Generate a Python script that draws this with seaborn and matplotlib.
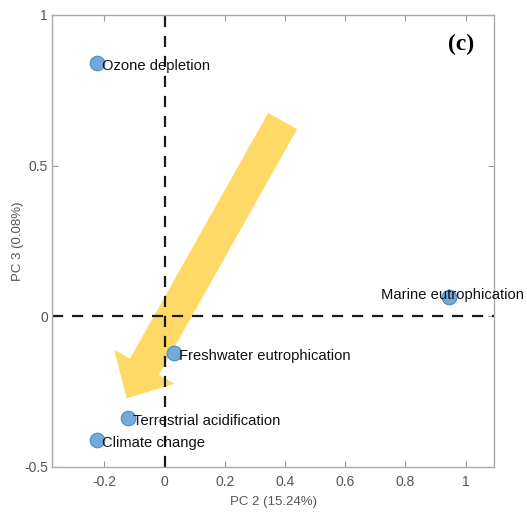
import matplotlib
matplotlib.use("Agg")
import matplotlib.pyplot as plt
import seaborn as sns
import pandas as pd

# impact categories and their PCA loadings
categories = ["Ozone depletion", "Marine eutrophication", "Freshwater eutrophication",
              "Terrestrial acidification", "Climate change"]
pc2 = [-0.226, 0.944, 0.030, -0.123, -0.226]
pc3 = [0.840, 0.063, -0.123, -0.339, -0.412]

x_ticks = [-0.2, 0, 0.2, 0.4, 0.6, 0.8, 1]
x_tick_labels = ["-0.2", "0", "0.2", "0.4", "0.6", "0.8", "1"]
y_ticks = [-0.5, 0, 0.5, 1]
y_tick_labels = ["-0.5", "0", "0.5", "1"]

# big yellow trend arrow (tail -> tip, data units)
arrow_tail = (0.392, 0.648)
arrow_tip = (-0.126, -0.272)

df = pd.DataFrame({"PC2": pc2, "PC3": pc3, "name": categories})

sns.set_style("white")
plt.rcParams["font.family"] = ["Liberation Sans", "DejaVu Sans"]

fig = plt.figure(figsize=(5.27, 5.13), dpi=100)
ax = fig.add_axes([0.0987, 0.0897, 0.8387, 0.8811])

ax.set_xlim(-0.374, 1.094)
ax.set_ylim(-0.5, 1)

# arrow below everything
dx = arrow_tip[0] - arrow_tail[0]
dy = arrow_tip[1] - arrow_tail[1]
ax.arrow(arrow_tail[0], arrow_tail[1], dx, dy, width=0.11, head_width=0.23,
         head_length=0.12, length_includes_head=True, color="#FFD966", lw=0, zorder=1)

# dashed reference lines
ax.axvline(0, color="#1a1a1a", linestyle=(0, (5, 4)), linewidth=1.6, zorder=2)
ax.axhline(0, color="#1a1a1a", linestyle=(0, (5, 4)), linewidth=1.6, zorder=2)

sns.scatterplot(data=df, x="PC2", y="PC3", ax=ax, s=110, color="#72ABDB",
                edgecolor="#4A8CC4", linewidth=0.8, zorder=3, legend=False)

for name, xv, yv in zip(categories, pc2, pc3):
    if name == "Marine eutrophication":
        ax.annotate(name, (xv, yv), xytext=(4, 2), textcoords="offset pixels",
                    ha="center", va="center", fontsize=10.6, color="#111111", zorder=4,
                    annotation_clip=False)
    else:
        ax.annotate(name, (xv, yv), xytext=(5, -3), textcoords="offset pixels",
                    ha="left", va="center", fontsize=10.6, color="#111111", zorder=4)

ax.set_xticks(x_ticks)
ax.set_xticklabels(x_tick_labels)
ax.set_yticks(y_ticks)
ax.set_yticklabels(y_tick_labels)
ax.tick_params(direction="in", length=4, width=0.8, color="#999999",
               labelcolor="#555555", labelsize=10, top=True, right=True,
               bottom=True, left=True)
ax.tick_params(axis="x", pad=6)
ax.tick_params(axis="y", pad=3)
for sp in ax.spines.values():
    sp.set_color("#aaaaaa")
    sp.set_linewidth(1.0)

ax.set_xlabel("PC 2 (15.24%)", fontsize=9.5, color="#555555", labelpad=5)
ax.set_ylabel("PC 3 (0.08%)", fontsize=9.5, color="#555555")
ax.yaxis.set_label_coords(-0.063, 0.5)

ax.text(0.955, 0.935, "(c)", transform=ax.transAxes, ha="right", va="center",
        fontsize=17, fontweight="bold", family=["Liberation Serif"], color="black")

fig.savefig("out.png", dpi=100)
